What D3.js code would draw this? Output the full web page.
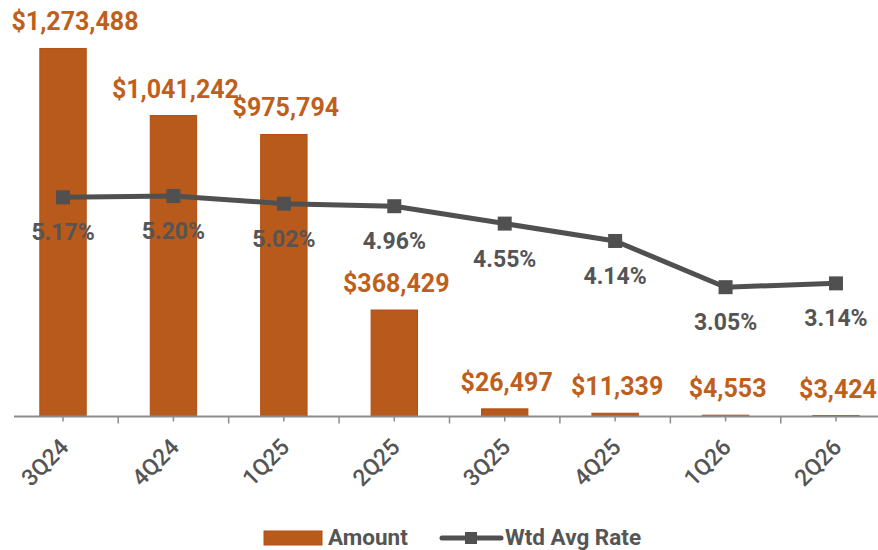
<!DOCTYPE html>
<html><head><meta charset="utf-8">
<script src="https://cdn.jsdelivr.net/npm/d3@7/dist/d3.min.js"></script>
<style>body{margin:0;background:#fff;} text{font-family:Roboto, "Noto Sans", sans-serif;}</style>
</head><body><svg id="c" width="878" height="550"></svg>
<script>
const categories = ["3Q24","4Q24","1Q25","2Q25","3Q25","4Q25","1Q26","2Q26"];
const amounts = [1273488, 1041242, 975794, 368429, 26497, 11339, 4553, 3424];
const rates = [5.17, 5.20, 5.02, 4.96, 4.55, 4.14, 3.05, 3.14];
const legendLabels = ["Amount", "Wtd Avg Rate"];

const svg = d3.select("#c");
const barColor = "#B85A1B", barStroke = "#B34E12", labelColor = "#BF5F1C", lineColor = "#505050", textGray = "#555555";
const x0 = 7.8, x1 = 891.2, yBase = 416.5;
const x = d3.scaleBand().domain(categories).range([x0, x1]).paddingInner(0).paddingOuter(0);
const y = d3.scaleLinear().domain([0, 1400000]).range([yBase, yBase - 404.6]);
const y2 = d3.scaleLinear().domain([0, 9.55]).range([yBase, yBase - 404.9]);
const bw = x.bandwidth() * 0.42;

// bars
svg.append("g").selectAll("rect").data(amounts).join("rect")
  .attr("x", (d,i) => x(categories[i]) + x.bandwidth()/2 - bw/2)
  .attr("y", d => y(d))
  .attr("width", bw)
  .attr("height", d => yBase - y(d))
  .attr("fill", barColor).attr("stroke", barStroke).attr("stroke-width", 1);

// axis
const axis = svg.append("g");
axis.append("line").attr("x1", 14).attr("x2", 878).attr("y1", yBase).attr("y2", yBase).attr("stroke", "#8c8c8c").attr("stroke-width", 2);
const seps = categories.map((c) => x(c)).slice(1);
axis.selectAll("line.sep").data(seps).join("line").attr("class","sep")
  .attr("x1", d => d).attr("x2", d => d).attr("y1", yBase).attr("y2", yBase + 7).attr("stroke", "#8c8c8c").attr("stroke-width", 1.5);
axis.selectAll("line.mid").data(categories).join("line").attr("class","mid")
  .attr("x1", d => x(d) + x.bandwidth()/2).attr("x2", d => x(d) + x.bandwidth()/2).attr("y1", yBase).attr("y2", yBase + 5).attr("stroke", "#8c8c8c").attr("stroke-width", 1.5);
axis.selectAll("text").data(categories).join("text")
  .attr("transform", d => `translate(${x(d) + x.bandwidth()/2 + 7},${yBase + 32}) rotate(-45)`)
  .attr("text-anchor", "end").attr("font-size", 23).attr("font-weight", 500).attr("fill", textGray)
  .text(d => d);

// line
const pts = rates.map((r,i) => [x(categories[i]) + x.bandwidth()/2, y2(r)]);
svg.append("path").attr("d", d3.line()(pts)).attr("fill","none").attr("stroke", lineColor).attr("stroke-width", 5).attr("stroke-linejoin","round");
svg.append("g").selectAll("rect").data(pts).join("rect")
  .attr("x", d => d[0]-7).attr("y", d => d[1]-7).attr("width", 14).attr("height", 14).attr("fill", lineColor);

// rate labels
svg.append("g").selectAll("text").data(rates).join("text")
  .attr("x", (d,i) => pts[i][0]).attr("y", (d,i) => pts[i][1] + 43)
  .attr("text-anchor","middle").attr("font-size", 23).attr("font-weight", 700).attr("fill", textGray)
  .text(d => d.toFixed(2) + "%");

// amount labels
const fmt = d3.format(",");
svg.append("g").selectAll("text").data(amounts).join("text")
  .attr("x", (d,i) => Math.max(x(categories[i]) + x.bandwidth()/2 + 2, 75))
  .attr("y", d => y(d) - 18)
  .attr("text-anchor","middle").attr("font-size", 25).attr("font-weight", 700).attr("fill", labelColor)
  .text(d => "$" + fmt(d));

// legend
const lg = svg.append("g");
lg.append("rect").attr("x", 264).attr("y", 531).attr("width", 58).attr("height", 14).attr("fill", barColor).attr("stroke", barStroke);
lg.append("text").attr("x", 328).attr("y", 545).attr("font-size", 22.5).attr("font-weight", 700).attr("fill", textGray).text(legendLabels[0]);
lg.append("line").attr("x1", 442).attr("x2", 501).attr("y1", 538).attr("y2", 538).attr("stroke", lineColor).attr("stroke-width", 5).attr("stroke-linecap","round");
lg.append("rect").attr("x", 465).attr("y", 532).attr("width", 12).attr("height", 12).attr("fill", lineColor);
lg.append("text").attr("x", 505).attr("y", 545).attr("font-size", 22.5).attr("font-weight", 700).attr("fill", textGray).text(legendLabels[1]);
</script></body></html>
